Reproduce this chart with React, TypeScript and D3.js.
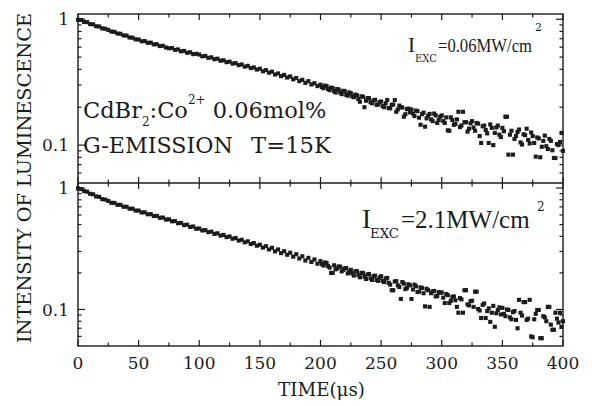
import React from "react";
import * as d3 from "d3";

const W = 592;
const H = 406;

// sample times (µs)
const TIME = d3.range(0, 400.01, 2.5);
const TIME_B = d3.range(201.25, 400, 2.5);

// upper panel: I_EXC = 0.06 MW/cm^2
const LUM_LOW_EXC = [
  0.990, 0.985, 0.952, 0.948, 0.915, 0.910, 0.879, 0.875, 0.846, 0.840,
  0.822, 0.798, 0.793, 0.770, 0.766, 0.744, 0.741, 0.716, 0.713, 0.692,
  0.690, 0.668, 0.670, 0.650, 0.651, 0.631, 0.633, 0.612, 0.615, 0.596,
  0.588, 0.590, 0.571, 0.575, 0.556, 0.560, 0.541, 0.546, 0.528, 0.531,
  0.524, 0.507, 0.511, 0.493, 0.498, 0.481, 0.486, 0.468, 0.472, 0.456,
  0.460, 0.444, 0.448, 0.432, 0.437, 0.420, 0.426, 0.409, 0.414, 0.398,
  0.404, 0.386, 0.394, 0.376, 0.383, 0.364, 0.371, 0.353, 0.361, 0.344,
  0.351, 0.333, 0.341, 0.322, 0.330, 0.312, 0.322, 0.303, 0.310, 0.294,
  0.302, 0.283, 0.294, 0.273, 0.284, 0.262, 0.276, 0.254, 0.268, 0.247,
  0.258, 0.240, 0.249, 0.221, 0.242, 0.225, 0.236, 0.215, 0.229, 0.210,
  0.222, 0.200, 0.228, 0.196, 0.210, 0.184, 0.206, 0.199, 0.176, 0.195,
  0.192, 0.170, 0.186, 0.145, 0.181, 0.163, 0.177, 0.155, 0.172, 0.158,
  0.172, 0.150, 0.131, 0.166, 0.145, 0.160, 0.139, 0.184, 0.152, 0.135,
  0.155, 0.130, 0.148, 0.104, 0.143, 0.124, 0.146, 0.100, 0.138, 0.121,
  0.137, 0.168, 0.084, 0.130, 0.112, 0.127, 0.105, 0.122, 0.135, 0.103,
  0.118, 0.081, 0.113, 0.097, 0.119, 0.093, 0.108, 0.079, 0.102, 0.106, 0.090,
];
const LUM_LOW_EXC_B = [
  0.289, 0.297, 0.279, 0.286, 0.268, 0.279, 0.262, 0.270, 0.251, 0.262,
  0.244, 0.252, 0.232, 0.244, 0.200, 0.236, 0.219, 0.226, 0.209, 0.220,
  0.204, 0.215, 0.197, 0.209, 0.228, 0.192, 0.200, 0.168, 0.193, 0.182,
  0.178, 0.188, 0.165, 0.176, 0.140, 0.171, 0.160, 0.178, 0.150, 0.168,
  0.155, 0.166, 0.130, 0.158, 0.147, 0.184, 0.143, 0.152, 0.128, 0.149,
  0.138, 0.150, 0.118, 0.141, 0.132, 0.104, 0.137, 0.125, 0.143, 0.116,
  0.129, 0.168, 0.121, 0.084, 0.118, 0.133, 0.101, 0.120, 0.110, 0.126,
  0.104, 0.115, 0.080, 0.108, 0.098, 0.112, 0.091, 0.079, 0.100, 0.125,
];

// lower panel: I_EXC = 2.1 MW/cm^2
const LUM_HIGH_EXC = [
  0.995, 0.980, 0.944, 0.933, 0.897, 0.888, 0.852, 0.845, 0.810, 0.803,
  0.783, 0.755, 0.754, 0.728, 0.727, 0.701, 0.701, 0.676, 0.676, 0.652,
  0.652, 0.629, 0.631, 0.608, 0.610, 0.588, 0.590, 0.569, 0.571, 0.550,
  0.552, 0.532, 0.534, 0.513, 0.516, 0.495, 0.499, 0.478, 0.482, 0.462,
  0.464, 0.447, 0.450, 0.433, 0.437, 0.419, 0.424, 0.406, 0.411, 0.394,
  0.399, 0.382, 0.388, 0.369, 0.375, 0.357, 0.364, 0.346, 0.352, 0.335,
  0.341, 0.323, 0.332, 0.312, 0.322, 0.301, 0.312, 0.291, 0.302, 0.282,
  0.293, 0.272, 0.285, 0.263, 0.274, 0.253, 0.266, 0.246, 0.258, 0.238,
  0.250, 0.230, 0.241, 0.221, 0.200, 0.214, 0.226, 0.206, 0.218, 0.198,
  0.212, 0.190, 0.207, 0.184, 0.200, 0.178, 0.196, 0.175, 0.190, 0.172,
  0.188, 0.168, 0.182, 0.160, 0.144, 0.171, 0.153, 0.168, 0.147, 0.161,
  0.122, 0.160, 0.139, 0.152, 0.136, 0.148, 0.105, 0.141, 0.128, 0.139,
  0.138, 0.113, 0.131, 0.118, 0.128, 0.105, 0.124, 0.094, 0.144, 0.108,
  0.118, 0.140, 0.101, 0.085, 0.112, 0.097, 0.079, 0.107, 0.093, 0.104,
  0.103, 0.088, 0.099, 0.083, 0.097, 0.070, 0.094, 0.115, 0.082, 0.120,
  0.059, 0.092, 0.099, 0.058, 0.086, 0.105, 0.075, 0.068, 0.084, 0.094, 0.080,
];
const LUM_HIGH_EXC_B = [
  0.236, 0.244, 0.228, 0.200, 0.231, 0.218, 0.225, 0.212, 0.219, 0.204,
  0.198, 0.206, 0.192, 0.200, 0.186, 0.194, 0.180, 0.188, 0.175, 0.183,
  0.172, 0.180, 0.166, 0.144, 0.170, 0.158, 0.122, 0.163, 0.150, 0.158,
  0.146, 0.155, 0.140, 0.150, 0.106, 0.144, 0.136, 0.142, 0.129, 0.137,
  0.125, 0.134, 0.113, 0.127, 0.119, 0.094, 0.121, 0.144, 0.110, 0.117,
  0.105, 0.140, 0.098, 0.109, 0.085, 0.102, 0.094, 0.072, 0.099, 0.091,
  0.092, 0.100, 0.086, 0.095, 0.082, 0.120, 0.089, 0.115, 0.084, 0.060,
  0.083, 0.099, 0.058, 0.088, 0.080, 0.105, 0.068, 0.094, 0.078, 0.072,
];

const X_TICKS = [0, 25, 50, 75, 100, 125, 150, 175, 200, 225, 250, 275, 300, 325, 350, 375, 400];
const X_LABELS = [0, 50, 100, 150, 200, 250, 300, 350, 400];
const Y_MINOR = [0.06, 0.07, 0.08, 0.09, 0.2, 0.3, 0.4, 0.5, 0.6, 0.7, 0.8, 0.9];
const Y_MAJOR = [0.1, 1];
const Y_LABELS = ["0.1", "1"];
const Y_DOMAIN = [0.05, 1.1];

const LEFT = 78;
const RIGHT = 563;
const TOP = 14;
const MID = 183;
const BOTTOM = 346;

const SERIF = "DejaVu Serif, serif";
const TIMES = "Liberation Serif, serif";
const INK = "#1c1c1c";
const MS = 4.1;

export default function App() {
  const x = d3.scaleLinear().domain([0, 400]).range([LEFT, RIGHT]);
  const yTop = d3.scaleLog().domain(Y_DOMAIN).range([MID, TOP]);
  const yBot = d3.scaleLog().domain(Y_DOMAIN).range([BOTTOM, MID]);

  const panel = (
    y: d3.ScaleLogarithmic<number, number>,
    top: number,
    bot: number,
    data: number[],
    dataB: number[],
    key: string
  ) => {
    const marks: React.ReactNode[] = [];
    X_TICKS.forEach((t) => {
      const L = t % 50 === 0 ? 6 : 3.5;
      marks.push(<line key={`${key}xt${t}`} x1={x(t)} x2={x(t)} y1={top} y2={top + L} stroke={INK} strokeWidth={1.2} />);
      marks.push(<line key={`${key}xb${t}`} x1={x(t)} x2={x(t)} y1={bot} y2={bot - L} stroke={INK} strokeWidth={1.2} />);
    });
    const yt = [...Y_MINOR.map((v) => [v, 3.5]), ...Y_MAJOR.map((v) => [v, 7])];
    yt.forEach(([v, L]) => {
      marks.push(<line key={`${key}yl${v}`} x1={LEFT} x2={LEFT + L} y1={y(v)} y2={y(v)} stroke={INK} strokeWidth={1.2} />);
      marks.push(<line key={`${key}yr${v}`} x1={RIGHT} x2={RIGHT - L} y1={y(v)} y2={y(v)} stroke={INK} strokeWidth={1.2} />);
    });
    Y_MAJOR.forEach((v, i) => {
      marks.push(
        <text key={`${key}ylab${i}`} x={69} y={y(v)} dy="0.36em" textAnchor="end" fontSize={17} fontFamily={SERIF} fill={INK}>
          {Y_LABELS[i]}
        </text>
      );
    });
    data.forEach((v, i) => {
      marks.push(<rect key={`${key}p${i}`} x={x(TIME[i]) - MS / 2} y={y(v) - MS / 2} width={MS} height={MS} fill={INK} />);
    });
    dataB.forEach((v, i) => {
      marks.push(<rect key={`${key}q${i}`} x={x(TIME_B[i]) - MS / 2} y={y(v) - MS / 2} width={MS} height={MS} fill={INK} />);
    });
    return marks;
  };

  return (
    <svg width={W} height={H} style={{ position: "absolute", left: 0, top: 0, background: "#fff" }}>
      <rect x={0} y={0} width={W} height={H} fill="#fff" />
      <g>{panel(yTop, TOP, MID, LUM_LOW_EXC, LUM_LOW_EXC_B, "u")}</g>
      <g>{panel(yBot, MID, BOTTOM, LUM_HIGH_EXC, LUM_HIGH_EXC_B, "l")}</g>
      <rect x={LEFT} y={TOP} width={RIGHT - LEFT} height={BOTTOM - TOP} fill="none" stroke={INK} strokeWidth={1.4} />
      <line x1={LEFT} x2={RIGHT} y1={MID} y2={MID} stroke={INK} strokeWidth={1.4} />

      {X_LABELS.map((t) => (
        <text key={`xl${t}`} x={x(t)} y={369} textAnchor="middle" fontSize={17} fontFamily={SERIF} fill={INK}>
          {t}
        </text>
      ))}
      <text x={278} y={396} fontSize={18} fontFamily={SERIF} fill={INK} textLength={87} lengthAdjust="spacingAndGlyphs">
        TIME(μs)
      </text>
      <text
        transform="translate(31,178) rotate(-90)"
        textAnchor="middle"
        fontSize={19}
        fontFamily={SERIF}
        fill={INK}
        textLength={330}
        lengthAdjust="spacingAndGlyphs"
      >
        INTENSITY OF LUMINESCENCE
      </text>

      {/* upper annotation */}
      <text x={408} y={52} fontSize={21} fontFamily={TIMES} fill={INK}>I</text>
      <text x={415} y={62} fontSize={10.5} fontFamily={SERIF} fill={INK} textLength={22} lengthAdjust="spacingAndGlyphs">EXC</text>
      <text x={438} y={52} fontSize={18.5} fontFamily={TIMES} fill={INK} textLength={94} lengthAdjust="spacingAndGlyphs">
        =0.06MW/cm
      </text>
      <text x={535} y={31} fontSize={11} fontFamily={SERIF} fill={INK}>2</text>

      {/* lower annotation */}
      <text x={362} y={228} fontSize={27} fontFamily={TIMES} fill={INK}>I</text>
      <text x={370} y={238} fontSize={12} fontFamily={SERIF} fill={INK} textLength={29} lengthAdjust="spacingAndGlyphs">EXC</text>
      <text x={401} y={228} fontSize={25} fontFamily={TIMES} fill={INK}>
        =2.1MW/cm
      </text>
      <text x={537} y={211} fontSize={12} fontFamily={SERIF} fill={INK}>2</text>

      {/* sample annotation */}
      <text x={83} y={118} fontSize={22.5} fontFamily={SERIF} fill={INK}>
        CdBr<tspan fontSize={12} dy={8}>2</tspan>
        <tspan dy={-8}>:Co</tspan>
        <tspan fontSize={12} dy={-14}>2+</tspan>
        <tspan dy={14}> 0.06mol%</tspan>
      </text>
      <text x={83} y={153} fontSize={22} fontFamily={SERIF} fill={INK} textLength={150} lengthAdjust="spacingAndGlyphs">
        G-EMISSION
      </text>
      <text x={251} y={153} fontSize={22} fontFamily={SERIF} fill={INK} textLength={80} lengthAdjust="spacingAndGlyphs">
        T=15K
      </text>
    </svg>
  );
}
